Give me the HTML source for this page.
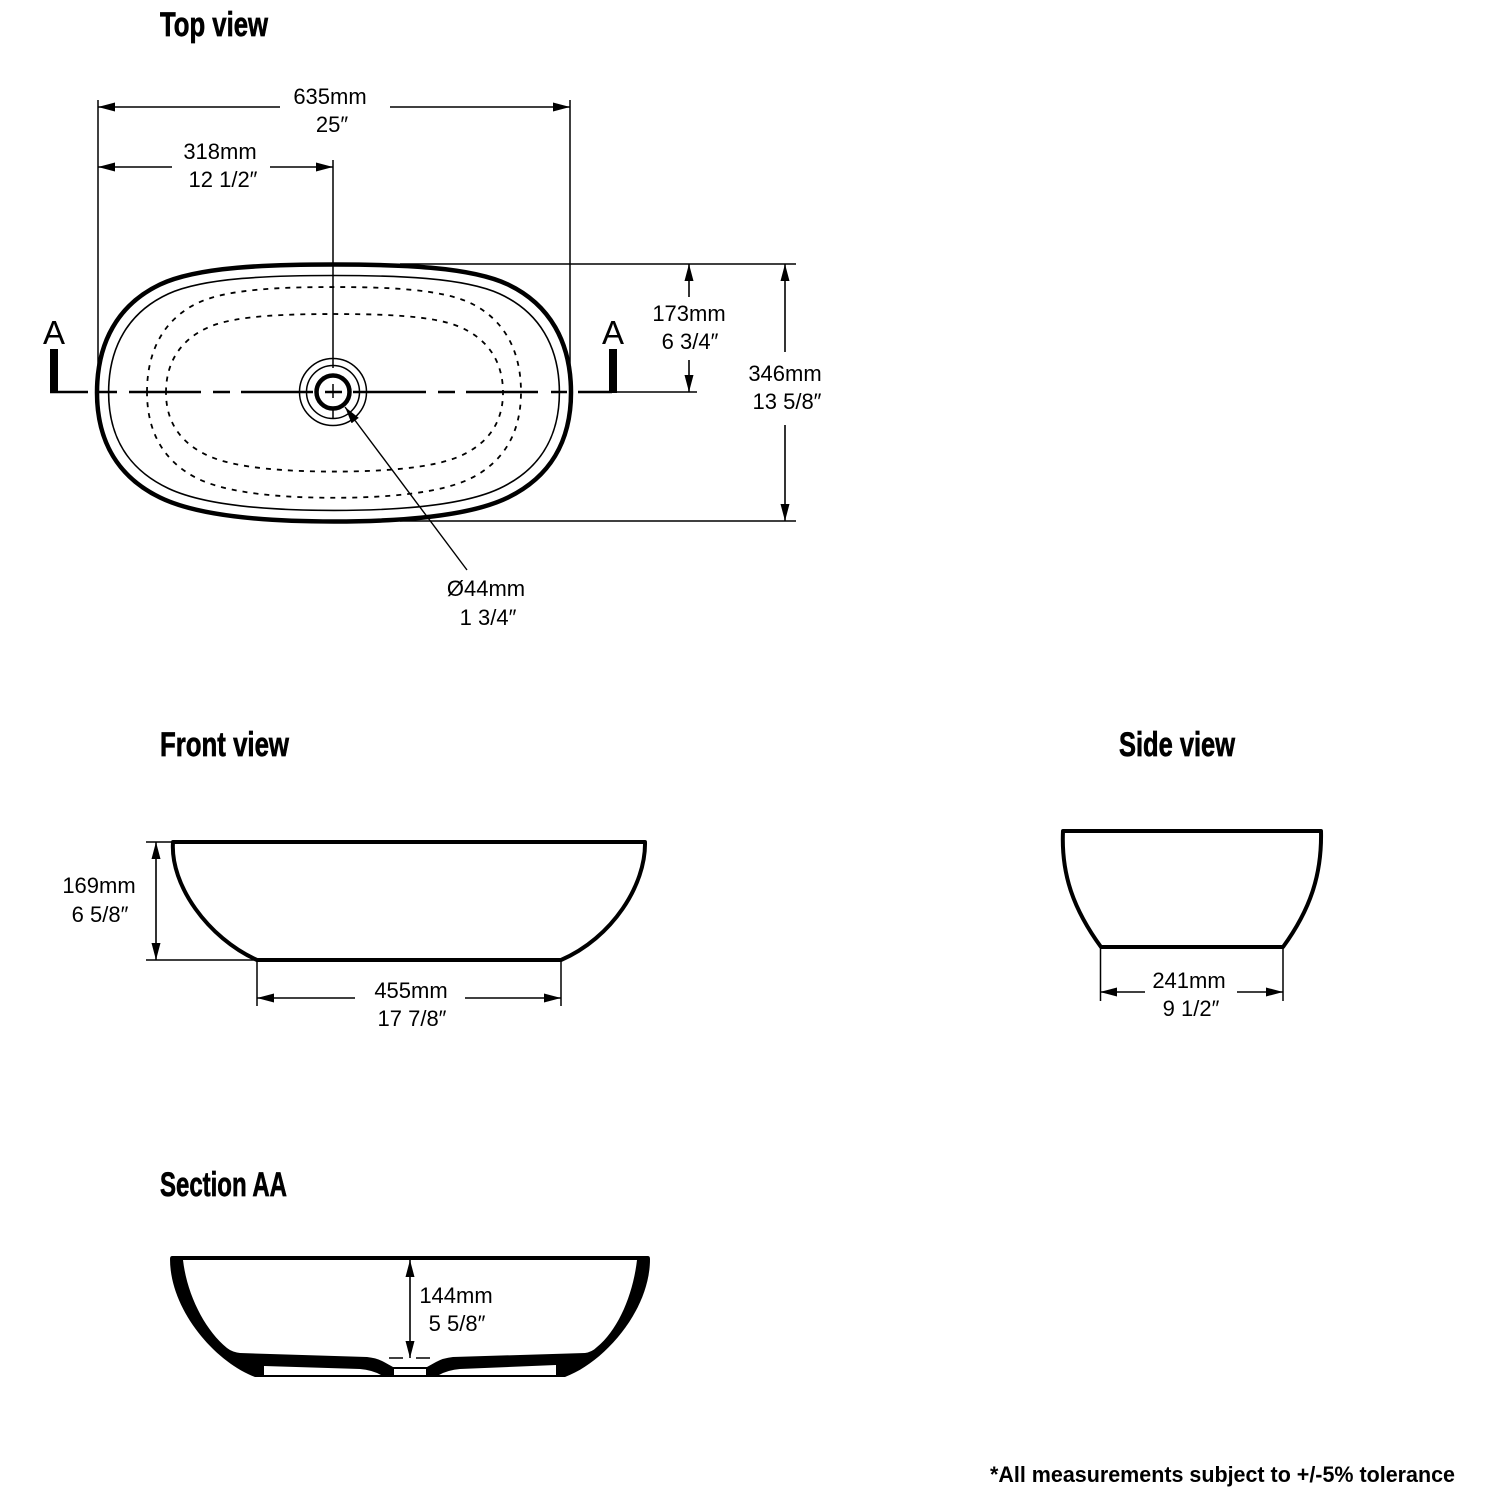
<!DOCTYPE html>
<html><head><meta charset="utf-8">
<style>html,body{margin:0;padding:0;background:#fff}svg{display:block}
text{font-family:"Liberation Sans",sans-serif;fill:#000}
.d{font-size:22px;text-anchor:middle}
.t{font-size:34px;font-weight:bold;stroke:#000;stroke-width:.7}
.l{stroke:#000;stroke-width:1.5;fill:none}
.a{stroke:#000;stroke-width:1.6;fill:none;marker-end:url(#ah)}
.c{stroke:#000;stroke-width:2.6;fill:none}
</style></head><body>
<svg width="1500" height="1500" viewBox="0 0 1500 1500" xmlns="http://www.w3.org/2000/svg">
<defs>
<marker id="ah" markerUnits="userSpaceOnUse" markerWidth="18" markerHeight="10" refX="17" refY="4.5" orient="auto"><path d="M0 0L17 4.5L0 9z" fill="#000"/></marker>
<path id="o" vector-effect="non-scaling-stroke" d="M-237 0C-237 -50 -216 -88 -174 -108C-136 -126 -64 -128 0 -128C64 -128 136 -126 174 -108C216 -88 237 -50 237 0C237 50 215 85 174 105C135 124 64 129 0 129C-64 129 -135 124 -174 105C-215 85 -237 50 -237 0Z"/>
</defs>
<rect width="1500" height="1500" fill="#fff"/>

<!-- titles -->
<text class="t" x="160" y="36" textLength="108" lengthAdjust="spacingAndGlyphs">Top view</text>
<text class="t" x="160" y="756" textLength="129" lengthAdjust="spacingAndGlyphs">Front view</text>
<text class="t" x="1119" y="756" textLength="116" lengthAdjust="spacingAndGlyphs">Side view</text>
<text class="t" x="160" y="1196" textLength="127" lengthAdjust="spacingAndGlyphs">Section AA</text>

<!-- top view shapes -->
<use href="#o" transform="translate(334 392.5)" fill="none" stroke="#000" stroke-width="4.5"/>
<use href="#o" transform="translate(334 392.5) scale(.951 .914)" fill="none" stroke="#000" stroke-width="1.6"/>
<g fill="none" stroke="#000" stroke-width="1.8" stroke-dasharray="5 6">
<use href="#o" transform="translate(334 392) scale(.789 .82)"/>
<use href="#o" transform="translate(334.5 392.5) scale(.711 .613)"/>
</g>
<circle cx="333" cy="392" r="33.5" class="l"/>
<circle cx="333" cy="392" r="26.5" class="l"/>
<circle cx="333" cy="392" r="16.5" fill="none" stroke="#000" stroke-width="4.5"/>

<!-- centre line -->
<path class="c" d="M50 392H88M97 392H117M129 392H201M213 392H230M241 392H313M325 392H342M353 392H426M438 392H455M466 392H538M551 392H567"/>
<path class="l" d="M578 392H697"/>
<path class="c" d="M578 392H612"/>
<path d="M50 349h8v44h-8zM609 349h8v44h-8z" fill="#000"/>
<text x="54" y="344" font-size="33" text-anchor="middle">A</text>
<text x="613" y="344" font-size="33" text-anchor="middle">A</text>

<!-- extensions -->
<path class="l" d="M98 100V392M570 100V392M333 160V368M333 384V398M333 410V418M400 264H796M400 521H796"/>

<!-- dims top -->
<path class="a" d="M280 107H98"/><path class="a" d="M390 107H570"/>
<path class="a" d="M172 167H98"/><path class="a" d="M270 167H333"/>
<path class="a" d="M689 297V264"/><path class="a" d="M689 360V392"/>
<path class="a" d="M785 352V264"/><path class="a" d="M785 425V521"/>
<path class="a" d="M467 570L345 407" style="stroke-width:1.4"/>
<text class="d" x="330" y="104">635mm</text><text class="d" x="332" y="132">25″</text>
<text class="d" x="220" y="159">318mm</text><text class="d" x="223" y="187">12 1/2″</text>
<text class="d" x="689" y="321">173mm</text><text class="d" x="690" y="349">6 3/4″</text>
<text class="d" x="785" y="381">346mm</text><text class="d" x="787" y="409">13 5/8″</text>
<text class="d" x="486" y="596">Ø44mm</text><text class="d" x="488" y="625">1 3/4″</text>

<!-- front view -->
<path fill="none" stroke="#000" stroke-width="4" stroke-linejoin="round" d="M173 842H645C646 885 612 938 561 960H257C208 938 170 885 173 842Z"/>
<path class="l" d="M146 842H172M146 960H256M257 960V1006M561 960V1006"/>
<path class="a" d="M156 900V842"/><path class="a" d="M156 900V960"/>
<path class="a" d="M355 998H257"/><path class="a" d="M465 998H561"/>
<text class="d" x="99" y="893">169mm</text><text class="d" x="100" y="922">6 5/8″</text>
<text class="d" x="411" y="998">455mm</text><text class="d" x="412" y="1026">17 7/8″</text>

<!-- side view -->
<path fill="none" stroke="#000" stroke-width="4" stroke-linejoin="round" d="M1063 831H1321C1322 875 1310 910 1283 947H1101C1074 910 1061 875 1063 831Z"/>
<path class="l" d="M1100.500 947V1001M1283 947V1001"/>
<path class="a" d="M1145 992H1100"/><path class="a" d="M1237 992H1283"/>
<text class="d" x="1189" y="988">241mm</text><text class="d" x="1191" y="1016">9 1/2″</text>

<!-- section -->
<path fill="#000" d="M172 1256H648Q650 1256 650 1259C650 1310 605 1362 565 1377H255C215 1362 170 1310 170 1259Q170 1256 172 1256Z"/>
<path fill="#fff" d="M183 1260H637C633 1295 618 1330 597 1347Q592 1352 585 1353L453 1357Q443 1358 436 1362L427 1367H393L384 1362Q377 1358 367 1357L240 1353Q232 1352 227 1348C205 1330 187 1295 183 1260Z"/>
<path fill="#fff" d="M264 1366L360 1369Q372 1370 381 1375H264ZM394 1369H426V1375H394ZM439 1375Q448 1370 460 1369L556 1365V1375Z"/>
<path class="a" d="M410 1300V1260"/><path class="a" d="M410 1300V1358"/>
<path class="l" d="M389 1358H403M416 1358H430"/>
<text class="d" x="456" y="1303">144mm</text><text class="d" x="457" y="1331">5 5/8″</text>

<text x="990" y="1482" font-size="22" font-weight="bold" textLength="465" lengthAdjust="spacingAndGlyphs">*All measurements subject to +/-5% tolerance</text>
</svg>
</body></html>
